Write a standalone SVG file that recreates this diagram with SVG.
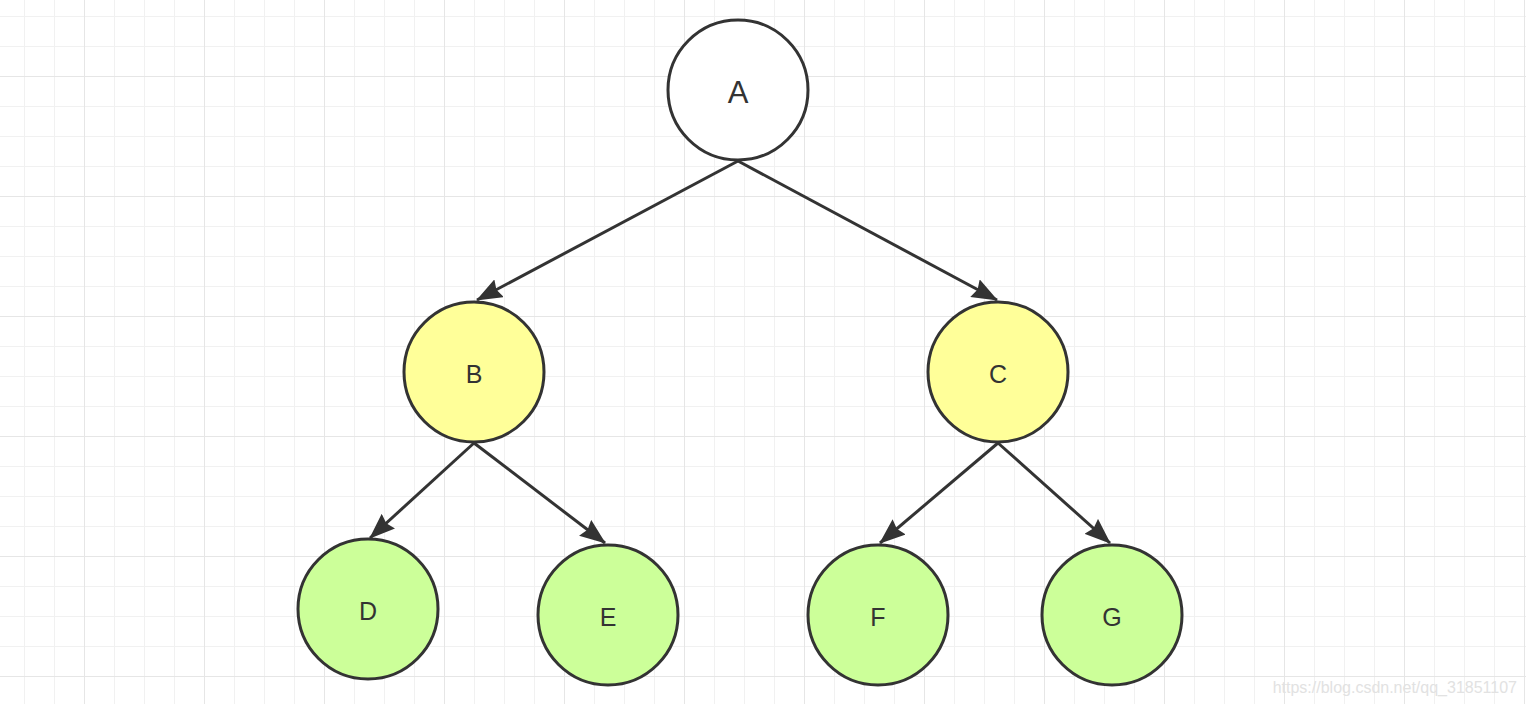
<svg xmlns="http://www.w3.org/2000/svg" width="1526" height="704" viewBox="0 0 1526 704">
<defs>
<pattern id="minor" x="-5" y="-13" width="30" height="30" patternUnits="userSpaceOnUse">
<path d="M30 0V30M0 30H30" stroke="#f1f1f1" stroke-width="2" fill="none"/>
</pattern>
<pattern id="major" x="-35" y="-43" width="120" height="120" patternUnits="userSpaceOnUse">
<path d="M120 0V120M0 120H120" stroke="#e6e6e6" stroke-width="2" fill="none"/>
</pattern>
<marker id="arr" viewBox="0 0 26 20" refX="25" refY="10" markerWidth="26" markerHeight="20" markerUnits="userSpaceOnUse" orient="auto">
<path d="M0 0L26 10L0 20L3 10Z" fill="#333"/>
</marker>
</defs>
<style>
.n{stroke:#333;stroke-width:3}
.w{fill:#fff}.y{fill:#ffff99}.g{fill:#ccff99}
.t{font-family:"Liberation Sans",Arial,sans-serif;fill:#333;text-anchor:middle;dominant-baseline:central;font-size:25px}
.c line{stroke:#333;stroke-width:3;marker-end:url(#arr)}
</style>
<rect width="1526" height="704" fill="#fff"/>
<rect width="1526" height="704" fill="url(#minor)"/>
<rect width="1526" height="704" fill="url(#major)"/>
<g class="c" id="connectors">
<line x1="738" y1="161" x2="477" y2="300"/>
<line x1="738" y1="161" x2="997" y2="300"/>
<line x1="474" y1="443" x2="370" y2="538"/>
<line x1="474" y1="443" x2="605" y2="543"/>
<line x1="998" y1="443" x2="880" y2="543"/>
<line x1="998" y1="443" x2="1110" y2="543"/>
</g>
<g id="A"><circle class="n w" cx="738" cy="90" r="70"/><text class="t" x="738" y="92" style="font-size:31px">A</text></g>
<g id="B"><circle class="n y" cx="474" cy="372" r="70"/><text class="t" x="474" y="374">B</text></g>
<g id="C"><circle class="n y" cx="998" cy="372" r="70"/><text class="t" x="998" y="374">C</text></g>
<g id="D"><circle class="n g" cx="368" cy="609" r="70"/><text class="t" x="368" y="611">D</text></g>
<g id="E"><circle class="n g" cx="608" cy="615" r="70"/><text class="t" x="608" y="617">E</text></g>
<g id="F"><circle class="n g" cx="878" cy="615" r="70"/><text class="t" x="878" y="617">F</text></g>
<g id="G"><circle class="n g" cx="1112" cy="615" r="70"/><text class="t" x="1112" y="617">G</text></g>
<text x="1517" y="693" font-family="Liberation Sans,Arial,sans-serif" font-size="16" fill="#e2e2e2" text-anchor="end">https://blog.csdn.net/qq_31851107</text>
</svg>
